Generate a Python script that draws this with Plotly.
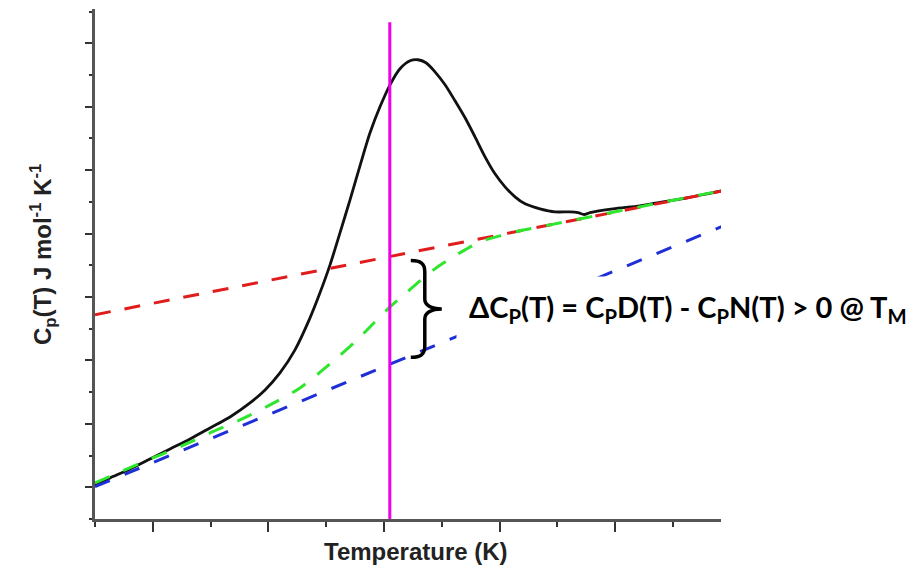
import numpy as np
import plotly.graph_objects as go

# ---------------- data (arbitrary units) ----------------
black_x = [0.000, 0.130, 0.303, 0.476, 0.649, 0.822, 0.995, 1.168, 1.341, 1.471, 1.600, 1.730,
           1.860, 1.946, 2.033, 2.119, 2.206, 2.292, 2.379, 2.465, 2.552, 2.638, 2.725, 2.794,
           2.863, 2.941, 3.028, 3.114, 3.201, 3.287, 3.374, 3.460, 3.547, 3.633, 3.720, 3.849,
           3.979, 4.109, 4.178, 4.230, 4.282, 4.481, 4.714, 4.913, 5.121, 5.294, 5.424]
black_y = [0.536, 0.647, 0.789, 0.946, 1.104, 1.262, 1.435, 1.609, 1.830, 2.035, 2.303, 2.666,
           3.170, 3.565, 4.006, 4.511, 5.032, 5.568, 6.088, 6.498, 6.845, 7.098, 7.224, 7.240,
           7.192, 7.050, 6.845, 6.593, 6.325, 6.025, 5.710, 5.442, 5.237, 5.079, 4.968, 4.890,
           4.842, 4.842, 4.830, 4.800, 4.830, 4.890, 4.937, 5.000, 5.063, 5.126, 5.174]

red_x = [0.00, 5.42]
red_y = [3.22, 5.17]

blue_x = [0.00, 5.42]
blue_y = [0.51, 4.61]

green_x = [0.000, 0.216, 0.476, 0.735, 0.995, 1.254, 1.514, 1.773, 2.033, 2.249, 2.422, 2.552,
           2.682, 2.811, 2.941, 3.071, 3.201, 3.330, 3.503, 3.676, 3.936, 4.369, 4.801, 5.234,
           5.424]
green_y = [0.568, 0.741, 0.946, 1.136, 1.356, 1.562, 1.798, 2.066, 2.445, 2.792, 3.107, 3.344,
           3.549, 3.754, 3.943, 4.101, 4.243, 4.369, 4.464, 4.543, 4.637, 4.795, 4.953, 5.110,
           5.174]

TM = 2.55          # melting temperature position
TM_TOP = 7.83      # top of the marker line

x_major = [0.5, 1.5, 2.5, 3.5, 4.5]
x_minor = [0, 1, 2, 3, 4, 5]
y_major = [0.5, 1.5, 2.5, 3.5, 4.5, 5.5, 6.5, 7.5]
y_minor = [0, 1, 2, 3, 4, 5, 6, 7, 8]

x_title = "<b>Temperature (K)</b>"
y_title = "<b>C<sub>p</sub>(T) J mol<sup>-1</sup> K<sup>-1</sup></b>"
note = "<b>ΔC<sub>P</sub>(T) = C<sub>P</sub>D(T) - C<sub>P</sub>N(T) > 0 @ T<sub>M</sub></b>"

# ---------------- layout geometry ----------------
W, H = 922, 570
ML, MR, MT, MB = 95, 201, 9, 51
XR = [0, 5.415]
YR = [0, 8.04]
PW = W - ML - MR
PH = H - MT - MB
sx = (XR[1] - XR[0]) / PW   # data units per pixel
sy = (YR[1] - YR[0]) / PH

fig = go.Figure()
fig.add_trace(go.Scatter(x=black_x, y=black_y, mode="lines",
                         line=dict(color="#111111", width=2.8, shape="spline", smoothing=0.8)))
fig.add_trace(go.Scatter(x=red_x, y=red_y, mode="lines",
                         line=dict(color="#e01c1c", width=3, dash="16px,14px")))
fig.add_trace(go.Scatter(x=blue_x, y=blue_y, mode="lines",
                         line=dict(color="#1f2fd8", width=3, dash="16px,16px")))
fig.add_trace(go.Scatter(x=green_x, y=green_y, mode="lines",
                         line=dict(color="#2ee62e", width=3, dash="16px,15px",
                                   shape="spline", smoothing=0.8)))

# magenta T_M marker
fig.add_shape(type="line", x0=TM, x1=TM, y0=0, y1=TM_TOP, xref="x", yref="y",
              line=dict(color="#ee00ee", width=3), layer="above")

# curly brace between native (blue) and denatured (red) baselines at T_M
y_red = float(np.interp(TM, red_x, red_y))
y_blue = float(np.interp(TM, blue_x, blue_y))
top = y_red - 4 * sy
bot = y_blue + 7 * sy
mid = (top + bot) / 2
x0 = TM + 21 * sx
xs = TM + 35 * sx
xt = TM + 52 * sx
def p(x, y):
    return f"{x:.5f},{y:.5f}"
path = (f"M {p(x0, top)} "
        f"C {p(x0 + 10*sx, top)} {p(xs, top - 3*sy)} {p(xs, top - 11*sy)} "
        f"L {p(xs, mid + 10*sy)} "
        f"C {p(xs, mid + 4*sy)} {p(xs + 6*sx, mid)} {p(xt, mid)} "
        f"C {p(xs + 6*sx, mid)} {p(xs, mid - 4*sy)} {p(xs, mid - 10*sy)} "
        f"L {p(xs, bot + 11*sy)} "
        f"C {p(xs, bot + 3*sy)} {p(x0 + 10*sx, bot)} {p(x0, bot)}")
fig.add_shape(type="path", path=path, xref="x", yref="y",
              line=dict(color="black", width=3.5), fillcolor="rgba(0,0,0,0)", layer="above")

axis_common = dict(showgrid=False, zeroline=False, showline=True, linecolor="#555555",
                   linewidth=3, ticks="outside", tickwidth=2, tickcolor="#333333",
                   showticklabels=False, tickmode="array")

fig.update_layout(
    width=W, height=H,
    margin=dict(l=ML, r=MR, t=MT, b=MB),
    paper_bgcolor="white", plot_bgcolor="white",
    showlegend=False,
    xaxis=dict(range=XR, tickvals=x_major, ticklen=10,
               minor=dict(tickmode="array", tickvals=x_minor, ticks="outside", ticklen=5,
                          tickwidth=2, tickcolor="#333333"),
               **axis_common),
    yaxis=dict(range=YR, tickvals=y_major, ticklen=7,
               minor=dict(tickmode="array", tickvals=y_minor, ticks="outside", ticklen=3,
                          tickwidth=2, tickcolor="#333333"),
               **axis_common),
)

fig.add_annotation(text=note, xref="paper", yref="paper",
                   x=(456 - ML) / PW, y=(H - MB - 308) / PH, xanchor="left", yanchor="middle",
                   showarrow=False, bgcolor="white", borderpad=12,
                   font=dict(family="Lato", size=29, color="black"))
fig.add_annotation(text=x_title, xref="paper", yref="paper",
                   x=(416 - ML) / PW, y=-(551 - (H - MB)) / PH, xanchor="center", yanchor="middle",
                   showarrow=False,
                   font=dict(family="Liberation Sans, Arial", size=24, color="#222222"))
fig.add_annotation(text=y_title, xref="paper", yref="paper", textangle=-90,
                   x=(43 - ML) / PW, y=(H - MB - 255) / PH, xanchor="center", yanchor="middle",
                   showarrow=False,
                   font=dict(family="Liberation Sans, Arial", size=24, color="#222222"))

fig.write_html("out.html")
